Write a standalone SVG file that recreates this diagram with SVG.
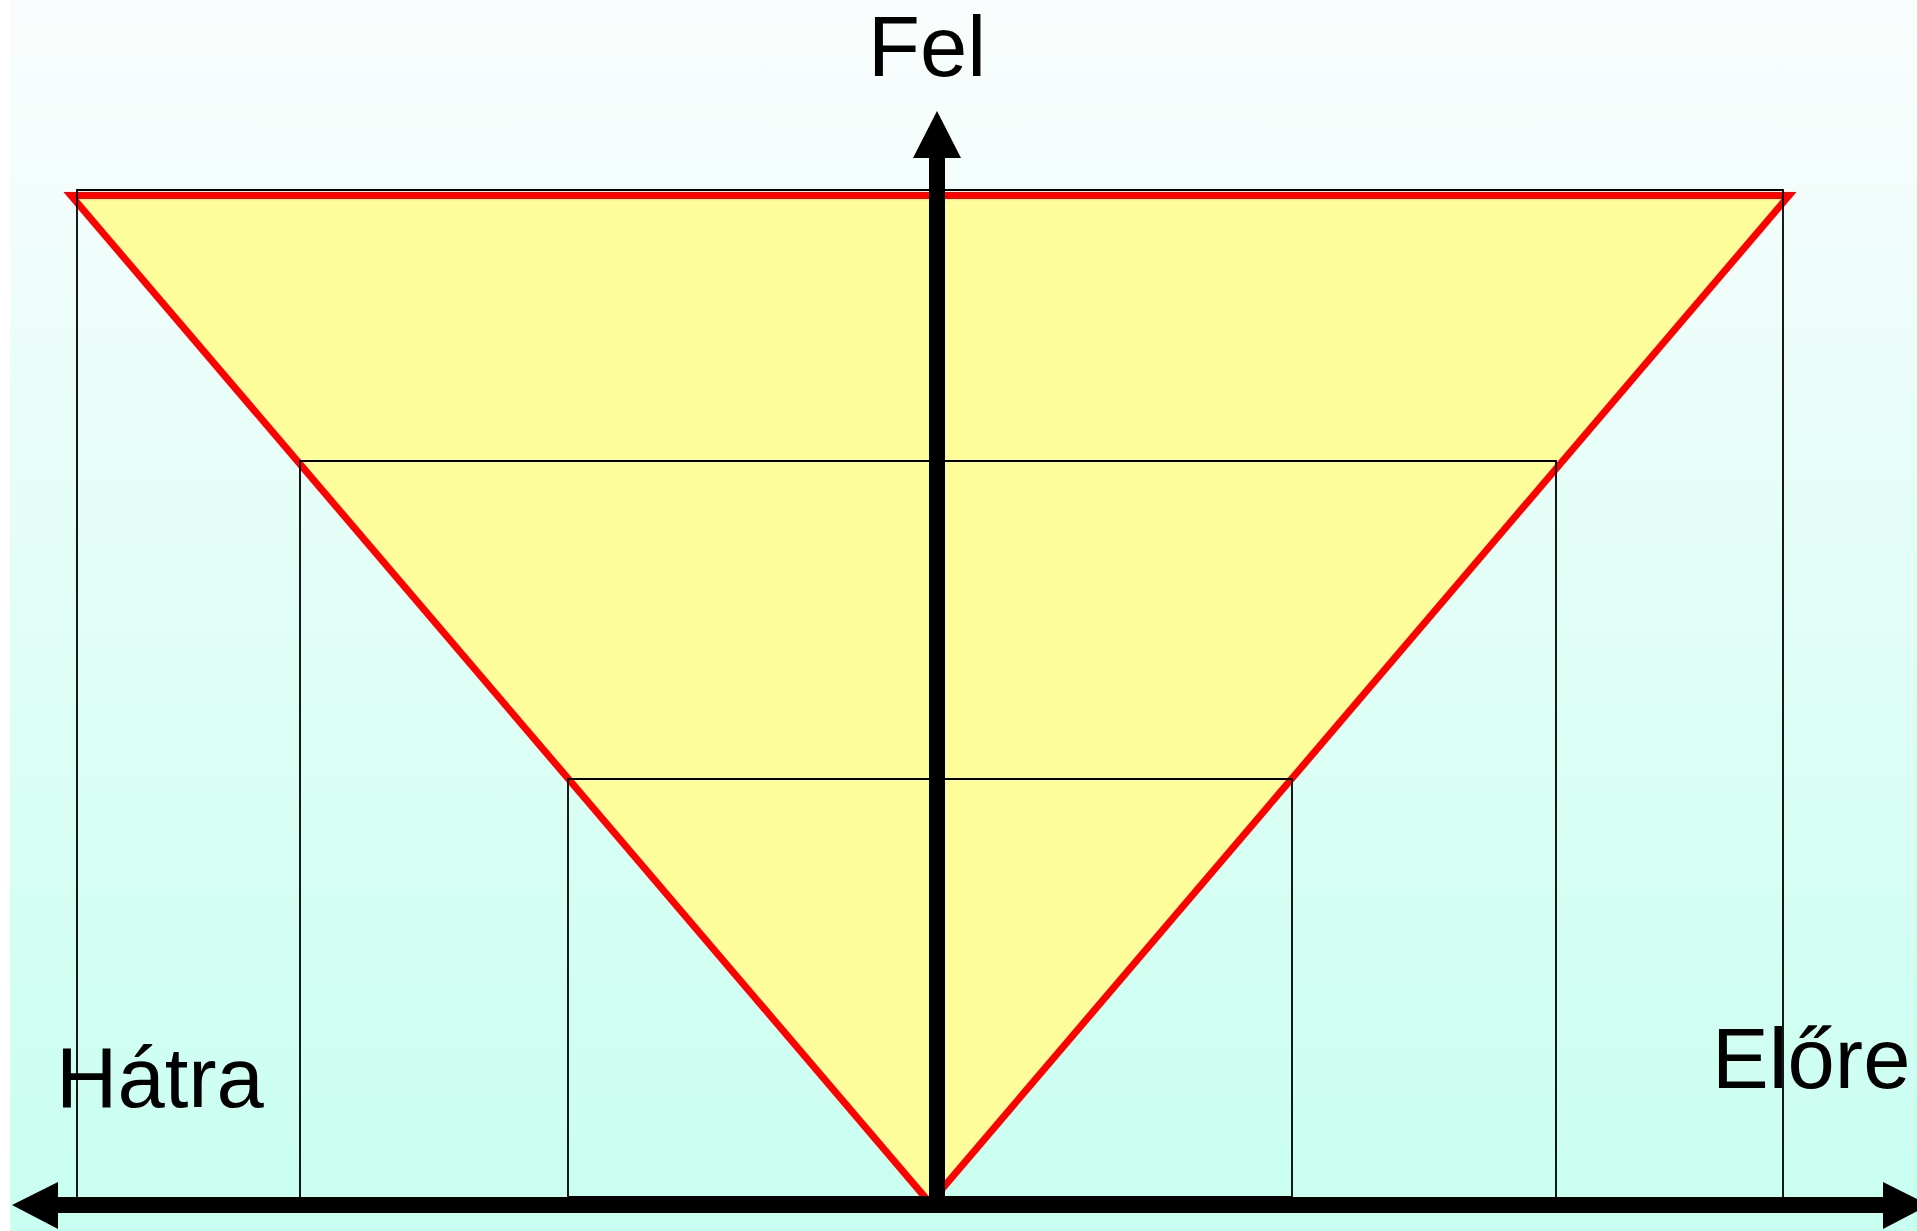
<svg xmlns="http://www.w3.org/2000/svg" width="1917" height="1231" viewBox="0 0 1917 1231">
  <defs>
    <linearGradient id="bg" x1="0" y1="0" x2="0" y2="1">
      <stop offset="0" stop-color="#fafdfd"/>
      <stop offset="1" stop-color="#c8fff0"/>
    </linearGradient>
    <style>
      .frame { fill: none; stroke: #000; stroke-width: 1.8; }
      .axis { stroke: #000; stroke-width: 16; fill: none; }
      .head { fill: #000; }
      .label { font-family: "Liberation Sans", Arial, sans-serif; font-size: 85px; fill: #000; }
    </style>
  </defs>
  <rect x="0" y="0" width="1917" height="1231" fill="#ffffff"/>
  <rect x="10" y="0" width="1907" height="1231" fill="url(#bg)"/>

  <g id="triangle">
    <polygon points="71,195.5 1789,195.5 930,1203" fill="#fdfd9b" stroke="#ff0000" stroke-width="7"/>
  </g>

  <g id="frames">
    <polyline class="frame" points="77,1205 77,190 1783,190 1783,1205"/>
    <polyline class="frame" points="300,1205 300,461 1556,461 1556,1205"/>
    <polyline class="frame" points="568,1197 568,779 1292,779 1292,1197"/>
    <line class="frame" x1="568" y1="1197" x2="1292" y2="1197"/>
  </g>

  <g id="connectors">
    <line class="axis" x1="937" y1="150" x2="937" y2="1205"/>
    <polygon class="head" points="937,111 913,158 961,158"/>
    <line class="axis" x1="50" y1="1205" x2="1890" y2="1205"/>
    <polygon class="head" points="12,1205 58,1182 58,1229"/>
    <polygon class="head" points="1929,1205 1883,1182 1883,1229"/>
  </g>

  <g id="label-fel">
    <text class="label" x="868" y="76">Fel</text>
  </g>
  <g id="label-hatra">
    <text class="label" x="56" y="1107">Hátra</text>
  </g>
  <g id="label-elore">
    <text class="label" x="1712" y="1088">Előre</text>
  </g>
</svg>
